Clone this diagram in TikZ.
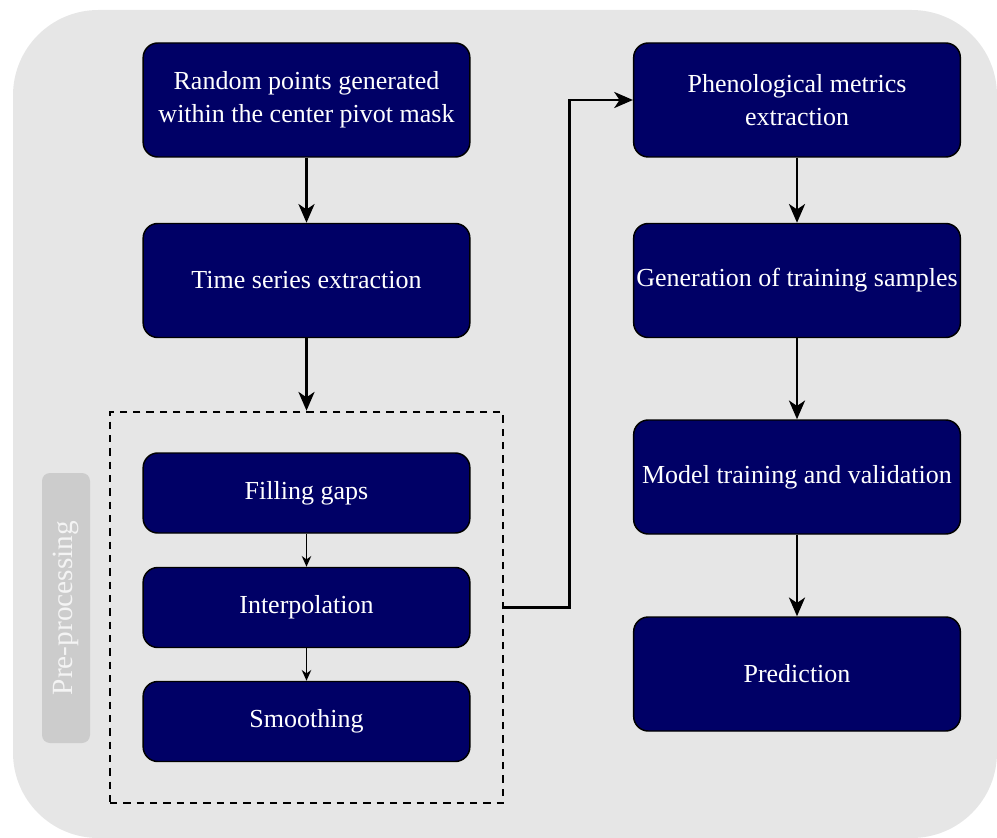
\documentclass[tikz,border=0pt]{standalone}
\usepackage{fontspec}
\setmainfont{Liberation Serif}
\usetikzlibrary{arrows.meta}
\definecolor{bgray}{HTML}{E6E6E6}
\definecolor{navybox}{HTML}{000066}
\definecolor{labgray}{HTML}{CCCCCC}
\definecolor{labtext}{HTML}{F4F4F4}
\begin{document}
\begin{tikzpicture}[x=0.75pt,y=-0.75pt,
  box/.style={draw=black, line width=1.1pt, fill=navybox, rounded corners=11pt, text=white,
    minimum width=245pt, minimum height=85.5pt, inner sep=1pt, align=center,
    font=\fontsize{19.5}{24.5}\selectfont},
  smallbox/.style={box, minimum height=60pt},
  bigarrow/.style={line width=2.2pt, -{Stealth[length=14pt,width=12pt,inset=4pt]}},
  smallarrow/.style={line width=1.2pt, -{Stealth[length=8pt,width=7pt,inset=2.5pt]}},
  dashbox/.style={draw=black, line width=2pt, dash pattern=on 5.5pt off 4.5pt,
    minimum width=294.75pt, minimum height=293.25pt, inner sep=0pt},
  labbox/.style={fill=labgray, rounded corners=6pt, minimum width=36pt, minimum height=202.5pt,
    inner sep=0pt},
]
\useasboundingbox (0,0) rectangle (997,838);
\fill[bgray, rounded corners=64pt] (13,10) rectangle (997,838);

\node[labbox] (lab) at (66,608) {};
\node[rotate=90, text=labtext, font=\fontsize{22}{26}\selectfont] (labt) at (lab.center) {Pre-processing};

\node[dashbox] (pre) at (306.5,607.5) {};

\node[box] (b1) at (306.5,100) {Random points generated\\within the center pivot mask};
\node[box] (b2) at (306.5,280.5) {Time series extraction};
\node[smallbox] (fg) at (306.5,493) {Filling gaps};
\node[smallbox] (ip) at (306.5,607.5) {Interpolation};
\node[smallbox] (sm) at (306.5,721.5) {Smoothing};

\node[box] (r1) at (797,100) {Phenological metrics\\extraction};
\node[box] (r2) at (797,280.5) {Generation of training samples};
\node[box] (r3) at (797,477) {Model training and validation};
\node[box] (r4) at (797,674) {Prediction};

\draw[bigarrow] (b1) -- (b2);
\draw[bigarrow] (b2) -- (pre.north);
\draw[smallarrow] (fg) -- (ip);
\draw[smallarrow] (ip) -- (sm);
\draw[bigarrow] (pre.east) -- ++(65,0) |- (r1.west);
\draw[bigarrow] (r1) -- (r2);
\draw[bigarrow] (r2) -- (r3);
\draw[bigarrow] (r3) -- (r4);
\end{tikzpicture}
\end{document}
